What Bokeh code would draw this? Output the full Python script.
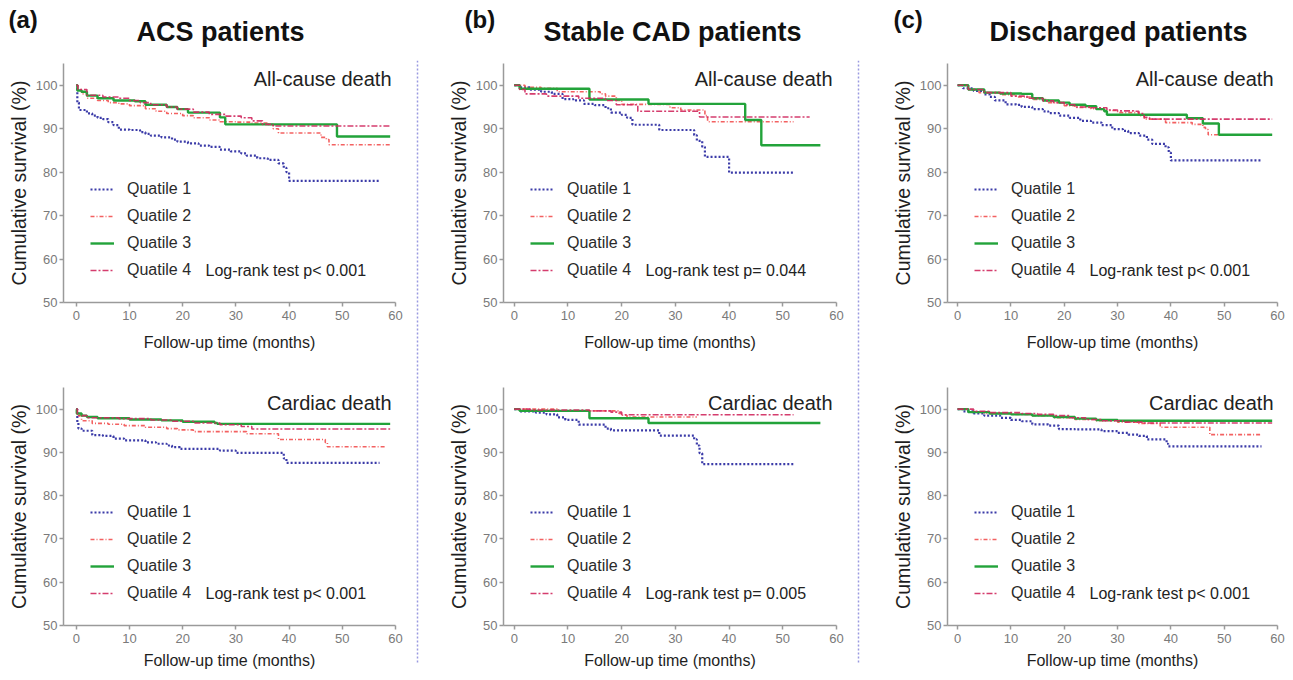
from bokeh.plotting import figure
from bokeh.models import Range1d, FixedTicker, Legend, LegendItem, Label, Span
from bokeh.layouts import row, column
from bokeh.embed import file_html
from bokeh.resources import INLINE
from bokeh.core.validation import silence
from bokeh.core.validation.warnings import MISSING_RENDERERS

silence(MISSING_RENDERERS, True)

# ---------------- data ----------------
quartile_labels = ["Quatile 1", "Quatile 2", "Quatile 3", "Quatile 4"]
x_ticks = [0, 10, 20, 30, 40, 50, 60]
y_ticks = [50, 60, 70, 80, 90, 100]

group_titles = ["ACS patients", "Stable CAD patients", "Discharged patients"]
group_tags = ["(a)", "(b)", "(c)"]
event_titles = ["All-cause death", "Cardiac death"]
p_values = [["Log-rank test p< 0.001", "Log-rank test p< 0.001"],
            ["Log-rank test p= 0.044", "Log-rank test p= 0.005"],
            ["Log-rank test p< 0.001", "Log-rank test p< 0.001"]]

# ACS patients, all-cause death
acs_all_t1 = [0, 0.2, 0.5, 2, 3, 4, 5, 6, 7, 8, 10, 12, 13, 14, 16, 18, 19, 21, 23, 25, 27, 29, 31, 32, 34, 36, 38, 39, 39.5, 40, 57]
acs_all_s1 = [100, 96, 94.3, 93.5, 93, 92.5, 92.2, 91.5, 90.8, 89.8, 89.7, 89.2, 88.8, 88.4, 88.0, 87.5, 87.0, 86.6, 86.1, 85.8, 85.2, 84.8, 84.3, 83.8, 83.2, 82.8, 82.0, 81.0, 80.0, 78.0, 78.0]
acs_all_t2 = [0, 0.3, 1, 2, 4, 6, 8, 10, 13, 15, 17, 20, 22, 25, 27, 30, 33, 36, 37, 38, 45, 46, 47, 47.5, 59]
acs_all_s2 = [100, 99, 98, 97, 96.5, 96, 95.7, 95.3, 94.6, 94, 93.5, 93, 92.5, 92, 91.6, 91.5, 91.3, 91, 90, 89, 89, 88, 87.5, 86.3, 86.3]
acs_all_t3 = [0, 0.2, 1, 2, 4, 7, 11, 13, 17, 19, 21, 27, 28, 49, 59]
acs_all_s3 = [100, 98.8, 98.5, 97.6, 97, 96.5, 96.3, 95.5, 95, 94.5, 93.7, 92.6, 91.0, 88.2, 88.2]
acs_all_t4 = [0, 0.3, 2, 5, 8, 10, 12, 14, 17, 19, 22, 25, 28, 31, 33, 35, 37, 59]
acs_all_s4 = [100, 99, 97.7, 97.3, 97, 96.5, 96, 95.5, 95, 94.5, 93.8, 93.3, 92.9, 92.5, 91.8, 91, 90.6, 90.6]

# ACS patients, cardiac death
acs_car_t1 = [0, 0.2, 0.4, 1, 3, 5, 7, 9, 13, 15, 17, 18, 19.5, 27, 30, 39, 39.5, 57]
acs_car_s1 = [100, 97, 95.5, 95, 94, 93.8, 93.2, 92.8, 92.3, 92, 91.6, 91.2, 90.8, 90.4, 89.9, 88.6, 87.6, 87.6]
acs_car_t2 = [0, 0.2, 1, 3, 6, 9, 13, 17, 19, 22, 32, 38, 46.8, 47.2, 58]
acs_car_s2 = [100, 98.5, 97.3, 96.7, 96.5, 96.2, 95.8, 95.5, 95.2, 94.8, 94.3, 93, 92.3, 91.3, 91.3]
acs_car_t3 = [0, 0.1, 1, 2, 4, 10, 16, 20, 26, 26.5, 59]
acs_car_s3 = [100, 99, 98.5, 98.2, 97.9, 97.6, 97.4, 97.1, 96.8, 96.6, 96.6]
acs_car_t4 = [0, 0.2, 2, 8, 14, 18, 22, 27, 31, 33, 59]
acs_car_s4 = [100, 98.5, 98, 97.8, 97.5, 97.2, 96.8, 96.4, 96, 95.4, 95.4]

# Stable CAD patients, all-cause death
cad_all_t1 = [0, 1, 3, 5, 7, 9, 11, 13, 15, 17, 18, 20, 21, 22, 27, 33.5, 34, 35, 35.5, 40, 52]
cad_all_s1 = [100, 99.5, 99, 98.5, 98, 96.8, 96.5, 95.7, 95.4, 94.7, 93.7, 93.2, 92.5, 90.9, 89.7, 88.5, 87.2, 85.8, 83.5, 79.9, 79.9]
cad_all_t2 = [0, 2, 5, 8, 16, 17, 19, 20, 29, 31, 35.5, 36, 52]
cad_all_s2 = [100, 99.5, 99.3, 98.5, 98, 97.5, 96.5, 95.6, 94.8, 94.3, 93, 91.6, 91.6]
cad_all_t3 = [0, 1, 14, 25, 43, 46, 57]
cad_all_s3 = [100, 99.2, 96.7, 95.7, 92, 86.2, 86.2]
cad_all_t4 = [0, 1, 2, 6, 12, 17, 19, 23, 34.5, 55]
cad_all_s4 = [100, 99, 98, 97.5, 97, 96.5, 95.5, 94, 92.7, 92.7]

# Stable CAD patients, cardiac death
cad_car_t1 = [0, 1, 4, 6, 8, 9.5, 12, 17, 18, 27, 33.5, 34, 34.5, 35, 52]
cad_car_s1 = [100, 99.5, 99.2, 98.8, 98.1, 97.5, 96.4, 95.5, 95.1, 93.9, 93, 91.6, 89.8, 87.3, 87.3]
cad_car_t2 = [0, 8, 19.5, 20, 21, 34]
cad_car_s2 = [100, 99.6, 99, 98.6, 98.2, 98.2]
cad_car_t3 = [0, 1, 14, 25, 57]
cad_car_s3 = [100, 99.6, 97.9, 96.8, 96.8]
cad_car_t4 = [0, 3, 14, 18, 20, 52]
cad_car_s4 = [100, 99.8, 99.6, 99.3, 98.7, 98.7]

# Discharged patients, all-cause death
dis_all_t1 = [0, 1, 3, 5, 6, 7, 9, 11, 12, 14, 16, 17, 19, 21, 23, 25, 27, 29, 31, 32, 34, 35.5, 36.5, 39, 39.6, 40, 57]
dis_all_s1 = [100, 99.3, 98.7, 97.9, 97.3, 96.5, 95.6, 95.5, 95, 94.5, 94, 93.6, 93, 92.5, 91.8, 91.4, 90.8, 89.9, 89.5, 89, 88.4, 87.5, 86.5, 85.7, 84.5, 82.7, 82.7]
dis_all_t2 = [0, 2, 4, 8, 11, 14, 17, 20, 22, 25, 27, 30, 34, 35, 39, 44, 46, 46.5, 47, 59]
dis_all_s2 = [100, 99, 98.3, 97.8, 97.3, 96.7, 96, 95.3, 94.9, 94.6, 94.2, 93.7, 93, 92.2, 91.4, 91, 90.3, 89.8, 88.6, 88.6]
dis_all_t3 = [0, 2, 5, 8, 12, 14, 16, 19, 21, 24, 26, 27.5, 28, 43, 46, 49, 59]
dis_all_s3 = [100, 99, 98.3, 98.1, 98, 97, 96.5, 96, 95.5, 95.2, 94.5, 94, 93.2, 92.4, 91.2, 88.6, 88.6]
dis_all_t4 = [0, 2, 5, 10, 13, 16, 18, 20, 22, 25, 28, 30, 33, 34, 35, 36, 59]
dis_all_s4 = [100, 99, 98.3, 97.5, 97, 96.4, 96, 95.5, 95, 94.8, 94.3, 94.1, 94, 93.5, 92.6, 92.2, 92.2]

# Discharged patients, cardiac death
dis_car_t1 = [0, 1, 3, 5, 8, 10, 12, 14, 17, 19, 22, 27, 30, 32, 34, 35.5, 39.2, 39.5, 57]
dis_car_s1 = [100, 99.5, 99, 98.5, 98, 97.5, 97.2, 96.5, 96.2, 95.4, 95.3, 94.9, 94.5, 94.1, 93.8, 93, 92, 91.4, 91.4]
dis_car_t2 = [0, 2, 5, 10, 14, 18, 22, 26, 30, 34, 38, 47.3, 57]
dis_car_s2 = [100, 99.3, 99, 98.8, 98.5, 98, 97.6, 97.3, 97, 96.7, 95.8, 94.1, 94.1]
dis_car_t3 = [0, 2, 6, 10, 14, 18, 22, 26, 30, 59]
dis_car_s3 = [100, 99.3, 99, 98.8, 98.5, 98.2, 97.8, 97.5, 97.3, 97.3]
dis_car_t4 = [0, 3, 6, 12, 15, 18, 21, 24, 27, 31, 35, 59]
dis_car_s4 = [100, 99.5, 99.2, 99, 98.8, 98.5, 98, 97.6, 97.3, 97, 96.8, 96.8]

panels = [
    [[(acs_all_t1, acs_all_s1), (acs_all_t2, acs_all_s2), (acs_all_t3, acs_all_s3), (acs_all_t4, acs_all_s4)],
     [(acs_car_t1, acs_car_s1), (acs_car_t2, acs_car_s2), (acs_car_t3, acs_car_s3), (acs_car_t4, acs_car_s4)]],
    [[(cad_all_t1, cad_all_s1), (cad_all_t2, cad_all_s2), (cad_all_t3, cad_all_s3), (cad_all_t4, cad_all_s4)],
     [(cad_car_t1, cad_car_s1), (cad_car_t2, cad_car_s2), (cad_car_t3, cad_car_s3), (cad_car_t4, cad_car_s4)]],
    [[(dis_all_t1, dis_all_s1), (dis_all_t2, dis_all_s2), (dis_all_t3, dis_all_s3), (dis_all_t4, dis_all_s4)],
     [(dis_car_t1, dis_car_s1), (dis_car_t2, dis_car_s2), (dis_car_t3, dis_car_s3), (dis_car_t4, dis_car_s4)]],
]

# ---------------- styles ----------------
FONT = "Liberation Sans"
line_styles = [
    dict(line_color="#3b3ba8", line_dash="2 2", line_width=2.2),
    dict(line_color="#f25050", line_dash="4 2 1 2", line_width=1.6, line_alpha=0.9),
    dict(line_color="#22a33a", line_dash="solid", line_width=2.4),
    dict(line_color="#d0285e", line_dash="6 2 2 2", line_width=1.6, line_alpha=0.9),
]

col_geom = [  # left border, frame width, right border, x start
    (63, 332, 19, -2.4),
    (83, 333, 19, -2.0),
    (86, 330, 8, -1.9),
]
row_geom = [  # top border, frame height, bottom border, x-label standoff
    (3, 239, 75, 11),
    (10, 238, 50, 6),
]
HEADER_H = 60


def km_panel(ci, ri):
    lb, fw, rb, xs = col_geom[ci]
    tb, fh, bb, xstand = row_geom[ri]
    p = figure(frame_width=fw, frame_height=fh,
               x_range=Range1d(xs, 60), y_range=Range1d(50, 105),
               min_border_left=lb, min_border_right=rb,
               min_border_top=tb, min_border_bottom=bb,
               output_backend="svg", toolbar_location=None)
    p.outline_line_color = None
    p.grid.visible = False
    p.background_fill_color = "white"
    for ax in (p.xaxis[0], p.yaxis[0]):
        ax.axis_line_color = "#9a9a9a"
        ax.axis_line_width = 1.5
        ax.major_tick_line_color = "#9a9a9a"
        ax.major_tick_line_width = 1.5
        ax.major_tick_out = 4
        ax.major_tick_in = 0
        ax.minor_tick_line_color = None
        ax.major_label_text_font = FONT
        ax.major_label_text_font_size = "13px"
        ax.major_label_text_color = "#7a7a7a"
        ax.axis_label_text_font = FONT
        ax.axis_label_text_font_style = "normal"
        ax.axis_label_text_color = "#1e1e1e"
    p.xaxis.major_label_standoff = 4
    p.yaxis.major_label_standoff = 2
    p.xaxis.ticker = FixedTicker(ticks=x_ticks)
    p.yaxis.ticker = FixedTicker(ticks=y_ticks)
    p.xaxis.axis_label = "Follow-up time (months)"
    p.xaxis.axis_label_text_font_size = "16px"
    p.xaxis.axis_label_standoff = xstand
    p.yaxis.axis_label = "Cumulative survival (%)"
    p.yaxis.axis_label_text_font_size = "19.5px"
    p.yaxis.axis_label_standoff = 3

    items = []
    for qi, (t, s) in enumerate(panels[ci][ri]):
        r = p.step(t, s, mode="after", **line_styles[qi])
        items.append(LegendItem(label=quartile_labels[qi], renderers=[r]))
    legend = Legend(items=items, location=(27, 22), padding=0, margin=0,
                    spacing=7, label_height=20, glyph_height=20, glyph_width=24,
                    label_standoff=13, label_text_font=FONT, label_text_font_size="16px",
                    label_text_color="#2a2a2a", background_fill_alpha=0,
                    border_line_alpha=0)
    p.add_layout(legend)

    p.add_layout(Label(x=fw - 4, y=fh - 4, x_units="screen", y_units="screen",
                       text=event_titles[ri], text_align="right", text_baseline="top",
                       text_font=FONT, text_font_size="20px", text_color="#222222"))
    p.add_layout(Label(x=142, y=32, x_units="screen", y_units="screen",
                       text=p_values[ci][ri], text_align="left", text_baseline="middle",
                       text_font=FONT, text_font_size="16px", text_color="#222222"))
    return p


def separator(h):
    s = figure(width=6, height=h, x_range=Range1d(-1, 1), y_range=Range1d(0, 1),
               min_border=0, min_border_bottom=12, x_axis_location=None, y_axis_location=None,
               output_backend="svg", toolbar_location=None)
    s.outline_line_color = None
    s.grid.visible = False
    s.add_layout(Span(location=0, dimension="height", line_color="#9a9ae0",
                      line_dash="2 2", line_width=1.5))
    return s


cols = []
for ci in range(3):
    cols.append(column(km_panel(ci, 0), km_panel(ci, 1), spacing=0))

total_w = sum(lb + fw + rb for lb, fw, rb, _ in col_geom) + 12
panel_h = sum(tb + fh + bb for tb, fh, bb, _ in row_geom)

header = figure(width=total_w, height=HEADER_H, x_range=Range1d(0, total_w),
                y_range=Range1d(0, HEADER_H), min_border=0,
                x_axis_location=None, y_axis_location=None,
                output_backend="svg", toolbar_location=None)
header.outline_line_color = None
header.grid.visible = False
tag_x = [8, 464, 893]
title_x = [220, 672, 1118]
for i in range(3):
    header.add_layout(Label(x=tag_x[i], y=HEADER_H - 5, x_units="screen", y_units="screen",
                            text=group_tags[i], text_align="left", text_baseline="top",
                            text_font=FONT, text_font_size="24px", text_font_style="bold",
                            text_color="#111111"))
    header.add_layout(Label(x=title_x[i], y=HEADER_H - 31, x_units="screen", y_units="screen",
                            text=group_titles[i], text_align="center", text_baseline="alphabetic",
                            text_font=FONT, text_font_size="27px", text_font_style="bold",
                            text_color="#111111"))

body = row(cols[0], separator(panel_h), cols[1], separator(panel_h), cols[2], spacing=0)
page = column(header, body, spacing=0)

open("out.html", "w").write(file_html(page, INLINE))
